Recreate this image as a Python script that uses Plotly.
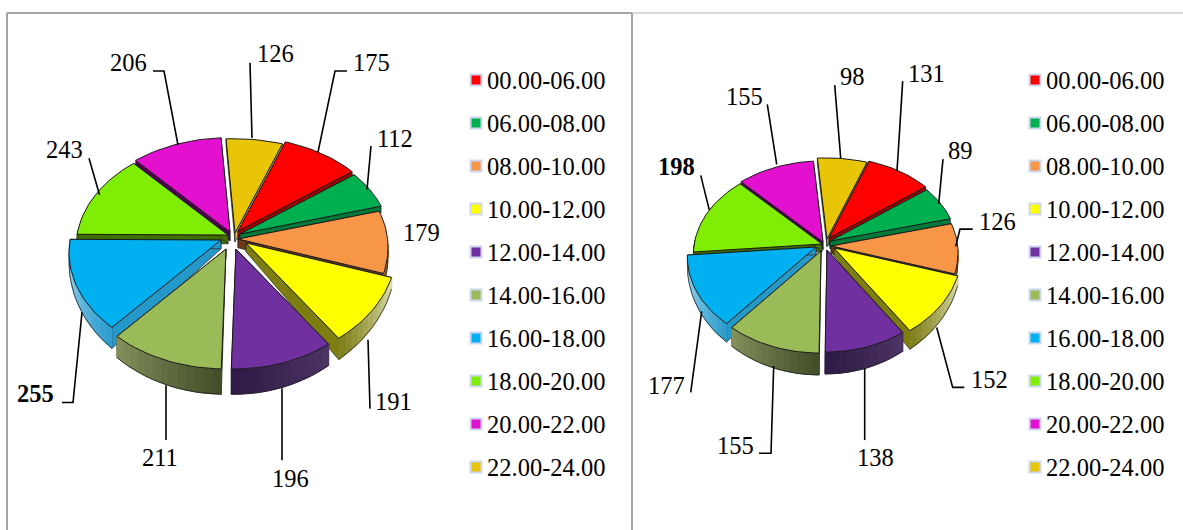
import numpy as np
import plotly.graph_objects as go

# ---- data ----
categories = ["00.00-06.00", "06.00-08.00", "08.00-10.00", "10.00-12.00", "12.00-14.00",
              "14.00-16.00", "16.00-18.00", "18.00-20.00", "20.00-22.00", "22.00-24.00"]
left_values = [175, 112, 179, 191, 196, 211, 255, 243, 206, 126]
right_values = [131, 89, 126, 152, 138, 155, 177, 198, 155, 98]

# ---- styles ----
colors = ["#ff0000", "#00b050", "#f79646", "#ffff00", "#7030a0",
          "#9bbb59", "#00b0f0", "#80ed05", "#e410cf", "#e8c607"]
edge_walls = ["#a00000", "#007a3a", "#6e3a1a", "#7e7e10", "#2e1a46",
              "#3f4c28", "#2498c8", "#3f7000", "#500050", "#d0c060"]
outer_start = ["#a00000", "#007a3a", "#a8682e", "#e2e2b4", "#4c3464",
               "#3f4c28", "#2a9ccc", "#3f7000", "#500050", "#d0c060"]
outer_end = ["#a00000", "#007a3a", "#a8682e", "#7e7e18", "#2e1a46",
             "#84915c", "#b4e0f4", "#3f7000", "#500050", "#d0c060"]
FONT = "Liberation Serif"
FS = 24.5
SY = 1.014
KX = 0.03
STEP = 3.0
START = 17.0

# explode offsets of each slice's apex, in pixels
left_shift = [(5, -6), (7, -3), (5, 2), (13, 6), (3, 12), (-7, 12), (-12, 3), (-5, -2), (-3, -5), (2, -4)]
right_shift = [(6, -6), (7, -3), (8, 2), (11, 4), (4, 6), (-2, 7), (-7, 3), (-1, 0), (0, -2), (4, -5)]

left_geo = dict(cx=233, cy=237, rx=150, ry=107, k=0.12, depth=22, shear=-11, tilt=5)
right_geo = dict(cx=823, cy=244, rx=127, ry=91.5, k=0.115, depth=19, shear=-9, tilt=4)

left_labels = [(371, 62), (395, 137), (421, 229), (393, 396), (290, 472),
               (160, 451), (35, 388), (64, 147), (128, 62), (275, 53)]
right_labels = [(926, 72), (960, 148), (997, 218), (989, 374), (875, 451),
                (735, 439), (666, 380), (676, 164), (744, 95), (852, 75)]
bold_left = {6}
bold_right = {7}

left_leaders = [
    [(347, 70), (335, 70), (318, 150)], [(371, 144), (367, 187)], [],
    [(370, 403), (368, 335)], [(282, 454), (282, 383)], [(166, 434), (166, 380)],
    [(62, 397), (73, 397), (82, 308)], [(89, 156), (99.5, 192)],
    [(153, 70), (164, 70), (178, 143)], [(250, 62), (252, 136)],
]
right_leaders = [
    [(902.7, 80), (897, 169)], [(943, 157), (938.7, 201)],
    [(972.7, 226), (960, 226), (955.7, 243)], [(964.3, 382), (952.7, 382), (936.7, 323)],
    [(864.7, 434), (864.7, 363)], [(759, 447), (771, 447), (773.7, 361)],
    [(690.7, 387), (701.7, 307)], [(700.7, 173), (709.3, 207)],
    [(767.3, 103), (776.7, 162)], [(834.7, 84), (840.7, 156)],
]
LEGEND_Y0, LEGEND_STEP = 80, 43
left_legend_x, right_legend_x = 476, 1035

fig = go.Figure()


def mix(a, b, t):
    ca = [int(a[i:i + 2], 16) for i in (1, 3, 5)]
    cb = [int(b[i:i + 2], 16) for i in (1, 3, 5)]
    return "rgb(%d,%d,%d)" % tuple(round(p + (q - p) * t) for p, q in zip(ca, cb))


def poly(xs, ys, fill, line=None, width=0.0, name=None):
    fig.add_trace(go.Scatter(
        x=list(xs) + [xs[0]], y=list(ys) + [ys[0]], mode="lines", fill="toself", fillcolor=fill,
        line=dict(color=line or fill, width=width if line else 1.0),
        hoverinfo="skip", showlegend=False, name=name))


def draw_pie(values, shifts, geo):
    cx, cy, rx, ry, k, depth, shear, tilt = (
        geo[n] for n in ("cx", "cy", "rx", "ry", "k", "depth", "shear", "tilt"))

    def outer(theta, ax, ay):
        t = np.radians(theta)
        u, v = np.sin(t), -np.cos(t)
        skew = 0.65 * (1 - u) if u >= 0 else 0.65 - 1.2 * u
        return ax + rx * u * (1 + KX * v) + shear * skew * v, ay + ry * v * (1 + k * v) + tilt * u

    def drop(theta):
        return depth * (0.3 + 0.85 * max(-np.cos(np.radians(theta)), 0))

    angles = START + np.concatenate([[0], np.cumsum(values)]) * 360.0 / sum(values)
    order = sorted(range(len(values)),
                   key=lambda i: -np.cos(np.radians((angles[i] + angles[i + 1]) / 2)))
    for i in order:
        a0, a1 = angles[i], angles[i + 1]
        ax, ay = cx + shifts[i][0], cy + shifts[i][1]
        # radial walls
        for a in (a0, a1):
            ox, oy = outer(a, ax, ay)
            poly([ax, ox, ox, ax], [ay, oy, oy + drop(a), ay + 0.4 * depth], edge_walls[i], "#222222", 0.7)
        # outer wall, only the part facing the viewer
        lo, hi = max(a0, 90), min(a1, 270)
        if hi > lo:
            n = max(1, int((hi - lo) / STEP))
            th = np.linspace(lo, hi, n + 1)
            for j in range(n):
                x1, y1 = outer(th[j], ax, ay)
                x2, y2 = outer(th[j + 1], ax, ay)
                poly([x1, x2, x2, x1], [y1, y2, y2 + drop(th[j + 1]), y1 + drop(th[j])],
                     mix(outer_start[i], outer_end[i], (j + .5) / n))
            xb, yb = zip(*[outer(t, ax, ay) for t in th])
            fig.add_trace(go.Scatter(x=list(xb), y=[y + drop(t) for y, t in zip(yb, th)], mode="lines",
                                     line=dict(color="#222222", width=0.8),
                                     hoverinfo="skip", showlegend=False))
        # top face
        th = np.linspace(a0, a1, max(2, int((a1 - a0) / 2) + 1))
        pts = [outer(t, ax, ay) for t in th]
        poly([ax] + [p[0] for p in pts], [ay] + [p[1] for p in pts], colors[i], "#1a1a1a", 1.0,
             name=categories[i])


draw_pie(left_values, left_shift, left_geo)
draw_pie(right_values, right_shift, right_geo)

# leader lines
for group in (left_leaders, right_leaders):
    for pts in group:
        if pts:
            fig.add_trace(go.Scatter(x=[p[0] for p in pts], y=[p[1] * SY for p in pts], mode="lines",
                                     line=dict(color="#000000", width=1.6),
                                     hoverinfo="skip", showlegend=False))

# legends
for lx in (left_legend_x, right_legend_x):
    ys = [LEGEND_Y0 + LEGEND_STEP * i for i in range(len(categories))]
    fig.add_trace(go.Scatter(
        x=[lx] * len(categories), y=ys, mode="markers",
        marker=dict(symbol="square", size=11, color=colors,
                    line=dict(color="#cdd8f0", width=2)),
        hoverinfo="skip", showlegend=False))
    fig.add_trace(go.Scatter(
        x=[lx + 11] * len(categories), y=[y + 2.5 for y in ys], mode="text",
        text=categories, textposition="middle right",
        textfont=dict(family=FONT, size=FS, color="#000000"),
        hoverinfo="skip", showlegend=False))

# data labels
annotations = []
for vals, labs, bold in ((left_values, left_labels, bold_left), (right_values, right_labels, bold_right)):
    for i, (v, (x, y)) in enumerate(zip(vals, labs)):
        annotations.append(dict(x=x, y=y * SY, xref="x", yref="y", showarrow=False,
                                text=f"<b>{v}</b>" if i in bold else str(v),
                                font=dict(family=FONT, size=FS, color="#000000")))

frame = dict(type="line", xref="x", yref="y", layer="above")
shapes = [
    dict(frame, x0=7, x1=632, y0=13, y1=13, line=dict(color="#a6a6a6", width=2)),
    dict(frame, x0=7, x1=7, y0=13, y1=530, line=dict(color="#a6a6a6", width=2)),
    dict(frame, x0=632, x1=632, y0=13, y1=530, line=dict(color="#a6a6a6", width=2)),
    dict(frame, x0=632, x1=1183, y0=13, y1=13, line=dict(color="#b0b0b0", width=1)),
]

fig.update_layout(
    width=1183, height=530, margin=dict(l=0, r=0, t=0, b=0),
    paper_bgcolor="#ffffff", plot_bgcolor="#ffffff", showlegend=False,
    xaxis=dict(range=[0, 1183], visible=False, fixedrange=True),
    yaxis=dict(range=[530, 0], visible=False, fixedrange=True),
    annotations=annotations, shapes=shapes,
)
fig.write_html("out.html", config={"displayModeBar": False},
               post_script="document.body.style.margin='0';")
